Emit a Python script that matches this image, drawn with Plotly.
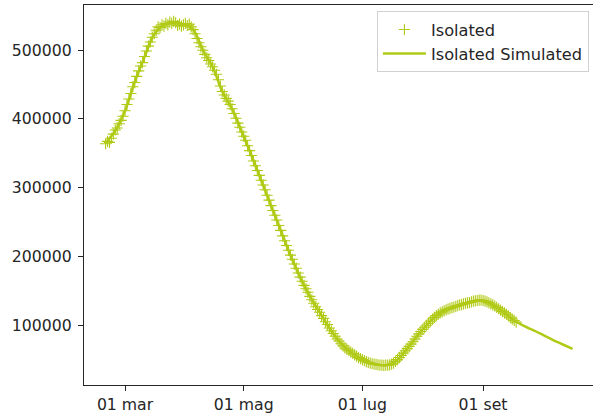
import pandas as pd
import plotly.graph_objects as go

# Observed daily "Isolated" values, starting 2021-02-19
obs_start = "2021-02-19"
isolated = [
    364000, 367500, 366000, 372000, 378000, 384000, 387000, 393000, 398000, 404000,
    412000, 421000, 429000, 437000, 447000, 453000, 462000, 470000, 477000, 482000,
    491000, 499000, 506000, 512000, 519000, 524000, 529000, 534000, 533000, 537000,
    535000, 539000, 537000, 541000, 539000, 542000, 540000, 536000, 538000, 535000,
    537000, 539000, 536000, 538000, 534000, 530000, 524000, 517000, 511000, 505000,
    500000, 494000, 489000, 485000, 480000, 476000, 471000, 465000, 457000, 448000,
    440000, 435000, 430000, 426000, 421000, 415000, 408000, 401000, 394000, 388000,
    381000, 375000, 369000, 361000, 354000, 347000, 339000, 332000, 325000, 318000,
    311000, 304000, 297000, 289000, 282000, 274000, 267000, 260000, 253000, 245000,
    238000, 230000, 223000, 216000, 209000, 202000, 196000, 189000, 183000, 176000,
    170000, 164000, 158000, 153000, 148000, 142000, 137000, 132000, 127000, 123000,
    119000, 114000, 110000, 105000, 101000, 96000, 92000, 88000, 84000, 80000,
    77000, 73000, 70000, 67000, 65000, 63000, 61000, 59000, 57000, 55000,
    53000, 51500, 50000, 48500, 47000, 46000, 45000, 44000, 43500, 43000,
    42500, 42000, 42000, 41500, 42000, 42000, 42500, 43500, 45000, 47500,
    50000, 53000, 56000, 59500, 63000, 66000, 69000, 72500, 76000, 80000,
    84000, 87500, 91000, 94000, 97000, 100000, 103000, 106000, 109000, 111500,
    114000, 116000, 118000, 119500, 121000, 122500, 123500, 124500, 125500, 126500,
    127500, 128500, 129500, 130000, 131000, 132000, 132500, 133000, 134000, 135000,
    135500, 136000, 136500, 136500, 136000, 135000, 134000, 132500, 131000, 129500,
    128000, 126000, 124000, 122000, 120000, 118000, 116000, 113500, 111000, 109000,
    107000, 104500,
]

# Simulated values, every 5 days starting 2021-02-19
sim_start = "2021-02-19"
sim_step_days = 5
simulated = [
    365000, 383000, 412000, 454000, 490000, 523000, 537000, 540000, 538000, 530000,
    500000, 476000, 440000, 415000, 381000, 347000, 311000, 274000, 238000, 202000,
    170000, 142000, 119000, 96000, 77000, 63000, 53000, 46000, 42500, 42000,
    50000, 66000, 84000, 100000, 114000, 122500, 127500, 132000, 135500, 135000,
    128000, 118000, 107000, 99000, 92500, 85500, 78500, 72000, 65500,
]

tick_dates = ["2021-03-01", "2021-05-01", "2021-07-01", "2021-09-01"]
tick_labels = ["01 mar", "01 mag", "01 lug", "01 set"]
y_ticks = [100000, 200000, 300000, 400000, 500000]

color = "#b0ca16"
obs_dates = pd.date_range(obs_start, periods=len(isolated), freq="D")
sim_dates = pd.date_range(sim_start, periods=len(simulated), freq=f"{sim_step_days}D")

fig = go.Figure()
fig.add_trace(go.Scatter(
    x=sim_dates, y=simulated, mode="lines", name="Isolated Simulated",
    line=dict(color=color, width=2.5, shape="spline"), showlegend=False,
))
fig.add_trace(go.Scatter(
    x=obs_dates, y=isolated, mode="markers", name="Isolated", legendgroup="obs",
    marker=dict(symbol="cross-thin", size=8, line=dict(color=color, width=1.1), color=color),
))
fig.add_trace(go.Scatter(
    x=[None], y=[None], mode="lines", name="Isolated Simulated", legendgroup="sim",
    line=dict(color=color, width=2.5),
))

font = dict(family="DejaVu Sans", size=15.7, color="#262626")
legend_font = dict(family="DejaVu Sans", size=16.2, color="#262626")
fig.update_layout(
    width=593, height=419,
    margin=dict(l=84, r=0, t=5, b=34),
    paper_bgcolor="white", plot_bgcolor="white",
    font=font,
    showlegend=True,
    legend=dict(
        x=0.992, y=0.983, xanchor="right", yanchor="top",
        bordercolor="#d0d0d0", borderwidth=1, bgcolor="rgba(255,255,255,0.8)",
        font=legend_font, tracegroupgap=0, itemwidth=43,
    ),
    xaxis=dict(
        range=["2021-02-07 22:00", "2021-10-27 12:00"],
        tickvals=tick_dates, ticktext=tick_labels,
        showgrid=False, zeroline=False, automargin=False,
        showline=True, linecolor="#262626", linewidth=1.2, mirror=True,
        ticks="outside", ticklen=5, tickwidth=1.2, tickcolor="#262626",
    ),
    yaxis=dict(
        range=[13090, 565800],
        tickvals=y_ticks, ticktext=[str(v) for v in y_ticks],
        showgrid=False, zeroline=False, automargin=False,
        showline=True, linecolor="#262626", linewidth=1.2,
        ticks="outside", ticklen=5, tickwidth=1.2, tickcolor="#262626",
        ticklabelstandoff=3,
    ),
)

fig.write_html(
    "out.html",
    config={"displayModeBar": False},
    post_script="document.body.style.margin='0px';document.body.style.overflow='hidden';",
)
